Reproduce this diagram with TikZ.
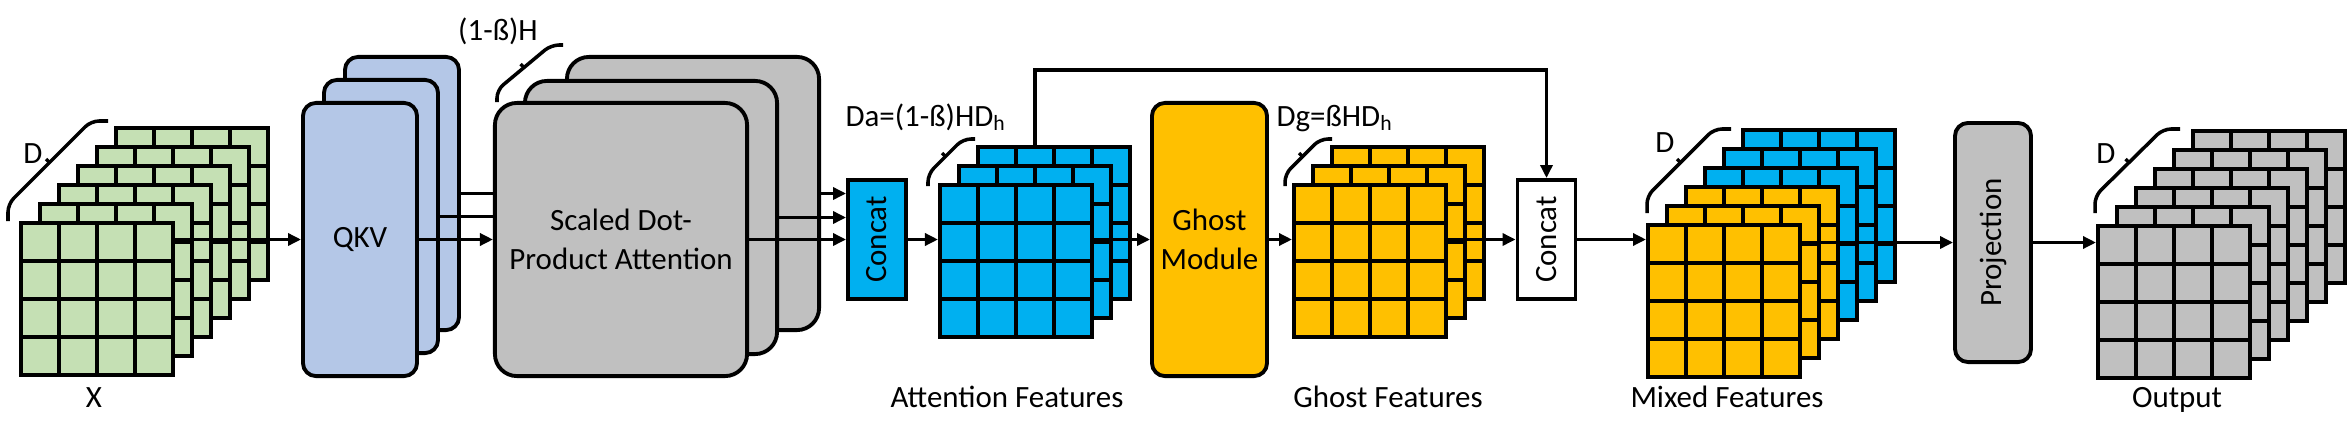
\documentclass[tikz,border=0pt]{standalone}
\usepackage{fontspec}
\setmainfont{Carlito}
\usepackage{graphicx}
\usetikzlibrary{arrows.meta,calc}

\definecolor{mapgreen}{RGB}{197,224,180}
\definecolor{qkvblue}{RGB}{180,199,231}
\definecolor{boxgray}{RGB}{192,192,192}
\definecolor{attblue}{RGB}{0,176,240}
\definecolor{ghostorange}{RGB}{255,192,0}

\tikzset{
  fmap/.style={draw,line width=1.1pt,fill=#1,anchor=north west,inner sep=0pt,
    minimum width=1.52cm,minimum height=1.52cm,
    path picture={
      \foreach \k in {0.25,0.5,0.75}{
        \draw[line width=1.1pt]
          ($(path picture bounding box.north west)!\k!(path picture bounding box.north east)$) --
          ($(path picture bounding box.south west)!\k!(path picture bounding box.south east)$);
        \draw[line width=1.1pt]
          ($(path picture bounding box.north west)!\k!(path picture bounding box.south west)$) --
          ($(path picture bounding box.north east)!\k!(path picture bounding box.south east)$);
      }}},
  block/.style={draw,line width=1.1pt,fill=#1,rounded corners=0.13cm,inner sep=0pt,align=center},
  catbox/.style={draw,line width=1.1pt,fill=#1,inner sep=0pt,minimum width=0.58cm,minimum height=1.19cm},
  arr/.style={line width=1pt,->},
  link/.style={line width=1pt},
  dimbr/.style={line width=1pt,rounded corners=0.08cm},
  lbl/.style={anchor=base,inner sep=0pt}
}

\newcommand{\dimbrace}[5]{%
  \draw[dimbr] (#1,#2) -- (#1,#2-#5) -- (#3-#5,#4) -- (#3,#4);
  \draw[line width=1pt] ($(#1,#2-#5)!0.5!(#3-#5,#4)$) -- ++(-3.5,-3.5);}

\begin{document}
\begin{tikzpicture}[x=0.01cm,y=-0.01cm,
  every node/.style={font=\fontsize{8.8}{11}\selectfont},
  >={Triangle[length=0.13cm,width=0.12cm]}]
  \useasboundingbox (0,0) rectangle (2350,433);

  % input
  \foreach \i in {6,...,1}
    \node[fmap=mapgreen] (x-\i) at ({19+19*(\i-1)},{221-19*(\i-1)}) {};

  \node[block=qkvblue,minimum width=1.14cm,minimum height=2.73cm] (qkv-3) at (402,193.5) {};
  \node[block=qkvblue,minimum width=1.14cm,minimum height=2.73cm] (qkv-2) at (381,216.5) {};
  \node[block=qkvblue,minimum width=1.14cm,minimum height=2.73cm] (qkv-1) at (360,239.5) {QKV};

  \node[block=boxgray,rounded corners=0.22cm,minimum width=2.52cm,minimum height=2.73cm] (sdpa-3) at (693,193.5) {};
  \node[block=boxgray,rounded corners=0.22cm,minimum width=2.52cm,minimum height=2.73cm] (sdpa-2) at (651,217.5) {};
  \node[block=boxgray,rounded corners=0.22cm,minimum width=2.52cm,minimum height=2.73cm] (sdpa-1) at (621,239.5)
    {Scaled Dot-\\Product Attention};

  \node[catbox=attblue] (cat1) at (877,239.5) {\rotatebox{90}{Concat}};

  \foreach \i in {3,2,1}
    \node[fmap=attblue] (att-\i) at ({938+19*(\i-1)},{183-19*(\i-1)}) {};

  \node[block=ghostorange,minimum width=1.15cm,minimum height=2.73cm] (ghost) at (1209.5,239.5) {Ghost\\Module};

  \foreach \i in {3,2,1}
    \node[fmap=ghostorange] (gf-\i) at ({1292+19*(\i-1)},{183-19*(\i-1)}) {};

  \node[catbox=white] (cat2) at (1546.5,239.5) {\rotatebox{90}{Concat}};

  \foreach \i/\c in {6/attblue,5/attblue,4/attblue,3/ghostorange,2/ghostorange,1/ghostorange}
    \node[fmap=\c] (mix-\i) at ({1646+19*(\i-1)},{223-19*(\i-1)}) {};

  \node[block=boxgray,minimum width=0.76cm,minimum height=2.39cm] (proj) at (1993,242.5) {\rotatebox{90}{Projection}};

  \foreach \i in {6,...,1}
    \node[fmap=boxgray] (out-\i) at ({2096+19*(\i-1)},{224-19*(\i-1)}) {};

  % connectors
  \draw[arr] (x-1.east |- qkv-1.west) -- (qkv-1.west);
  \draw[link] (qkv-3.east) -- (qkv-3.east -| sdpa-1.west);
  \draw[link] (qkv-2.east) -- (qkv-2.east -| sdpa-1.west);
  \draw[arr] (qkv-1.east) -- (sdpa-1.west);
  \foreach \i in {1,2,3}
    \draw[arr] (sdpa-\i.east) -- (sdpa-\i.east -| cat1.west);
  \draw[arr] (cat1.east) -- (cat1.east -| att-1.west);
  \draw[arr] (att-1.east |- ghost.west) -- (ghost.west);
  \draw[arr] (ghost.east) -- (ghost.east -| gf-1.west);
  \draw[arr] (gf-1.east |- cat2.west) -- (cat2.west);
  \draw[arr] ([xshift=0.59cm]att-3.north west) |- ([yshift=1.08cm]cat2.north) -- (cat2.north);
  \draw[arr] (cat2.east) -- (cat2.east -| mix-1.west);
  \draw[arr] (mix-1.east |- proj.west) -- (proj.west);
  \draw[arr] (proj.east) -- (proj.east -| out-1.west);

  % dimensions
  \dimbrace{8}{221}{108}{121}{17}
  \dimbrace{497}{102}{563}{45}{12}
  \dimbrace{928}{186}{975}{139}{12}
  \dimbrace{1285}{186}{1332}{139}{12}
  \dimbrace{1647}{213}{1731}{129}{17}
  \dimbrace{2095}{213}{2180}{129}{17}

  \node[lbl] (dx) at (33,163) {D};
  \node[lbl] (dh) at (498,40) {(1-ß)H};
  \node[lbl] (da) at (926,126) {Da=(1-ß)HD\textsubscript{h}};
  \node[lbl] (dg) at (1335,126) {Dg=ßHD\textsubscript{h}};
  \node[lbl] (dmix) at (1665,152) {D};
  \node[lbl] (dout) at (2106,163) {D};

  \node[lbl] (lx) at (94,407) {X};
  \node[lbl] (latt) at (1007,407) {Attention Features};
  \node[lbl] (lgf) at (1388,407) {Ghost Features};
  \node[lbl] (lmix) at (1727,407) {Mixed Features};
  \node[lbl] (lout) at (2177,407) {Output};
\end{tikzpicture}
\end{document}
